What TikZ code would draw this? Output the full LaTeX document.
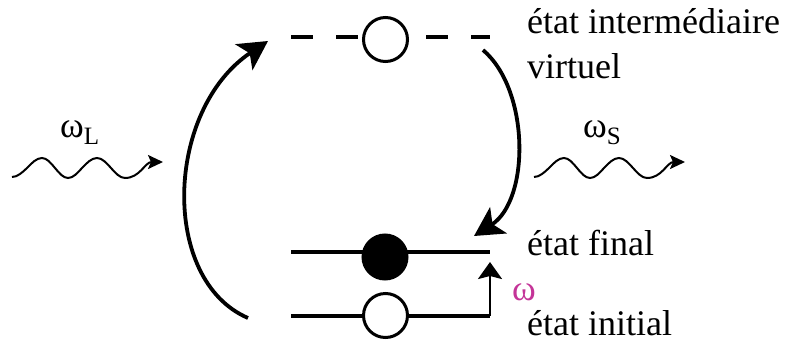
\documentclass[tikz,border=0pt]{standalone}
\usepackage{fontspec}
\setmainfont{Liberation Serif}
\usetikzlibrary{arrows.meta}
\definecolor{omegamag}{RGB}{196,52,152}
\tikzset{
  level/.style={line width=4pt},
  vlevel/.style={line width=4pt, dash pattern=on 22pt off 23pt},
  elec/.style={circle, draw, line width=3pt, minimum size=44pt, inner sep=0pt},
  bigarc/.style={line width=3.8pt, -{Stealth[length=29pt,width=31pt,inset=7pt]}},
  wave/.style={line width=2pt, -{Stealth[length=15pt,width=14pt,inset=3pt]}},
  small/.style={line width=2.5pt, -{Stealth[length=17pt,width=24pt,inset=3pt]}},
  lbl/.style={anchor=base west, inner sep=0pt, font=\fontsize{36}{40}\selectfont},
}
\begin{document}
\begin{tikzpicture}[x=1pt,y=-1pt]
\useasboundingbox (0,0) rectangle (792,343);
% levels
\coordinate (vL) at (291,37);
\coordinate (vR) at (490,37);
\coordinate (fL) at (291,252);
\coordinate (fR) at (490,252);
\coordinate (iL) at (291,316);
\coordinate (iR) at (490,316);
\draw[vlevel] (vL) -- (vR);
\draw[level] (fL) -- (fR);
\draw[level] (iL) -- (iR);
\node[elec, fill=white] (ev) at (385.5,39.5) {};
\node[elec, fill=black] (ef) at (385,257) {};
\node[elec, fill=white] (ei) at (385.5,315.5) {};
% small omega arrow
\coordinate (sTop) at (490,262);
\draw[small] (iR) -- (sTop);
\node[anchor=base west, inner sep=0pt, text=omegamag, font=\fontsize{36}{40}\selectfont] (om) at (512,300) {ω};
% big arcs
\coordinate (aS) at (248,318);
\coordinate (aE) at (268,41);
\draw[bigarc] (aS) .. controls (160,280) and (165,110) .. (aE);
\coordinate (bS) at (483,50);
\coordinate (bE) at (474,236);
\draw[bigarc] (bS) .. controls (530,90) and (530,200) .. (bE);
% waves
\coordinate (wL0) at (12,177);
\coordinate (wL1) at (163,162);
\draw[wave] (wL0) cos (27,168) sin (42,158) cos (55,168) sin (68,178) cos (82,168) sin (97,158) cos (111,168) sin (125,178) .. controls (140,178) and (145,162) .. (wL1);
\coordinate (wR0) at (534,177);
\coordinate (wR1) at (685,162);
\draw[wave] (wR0) cos (549,168) sin (564,158) cos (577,168) sin (590,178) cos (604,168) sin (619,158) cos (633,168) sin (647,178) .. controls (662,178) and (667,162) .. (wR1);
% labels
\node[lbl] (oL) at (60,137) {ω\raisebox{-7pt}{\fontsize{25}{25}\selectfont L}};
\node[lbl] (oS) at (583,137) {ω\raisebox{-7pt}{\fontsize{25}{25}\selectfont S}};
\node[lbl] (t1) at (527,33) {état intermédiaire};
\node[lbl] (t2) at (527,78) {virtuel};
\node[lbl] (t3) at (527,255) {état final};
\node[lbl] (t4) at (527,335) {état initial};
\end{tikzpicture}
\end{document}
